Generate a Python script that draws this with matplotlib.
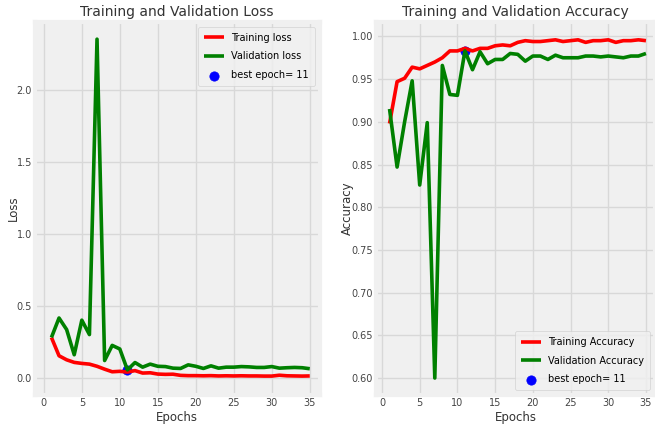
import matplotlib
matplotlib.use("Agg")
import matplotlib.pyplot as plt
import numpy as np

# -------------------------------------------------------------------
# Training history
# -------------------------------------------------------------------
epochs = list(range(1, 36))

tr_loss = [0.28, 0.153, 0.125, 0.107, 0.10, 0.095, 0.08, 0.06, 0.042, 0.045,
           0.04, 0.05, 0.033, 0.035, 0.026, 0.024, 0.025, 0.017, 0.015, 0.015,
           0.014, 0.015, 0.013, 0.014, 0.013, 0.014, 0.013, 0.013, 0.012, 0.012,
           0.018, 0.014, 0.013, 0.012, 0.013]
val_loss = [0.28, 0.415, 0.335, 0.16, 0.40, 0.30, 2.35, 0.12, 0.225, 0.20,
            0.055, 0.106, 0.074, 0.095, 0.08, 0.078, 0.067, 0.065, 0.09, 0.08,
            0.065, 0.083, 0.067, 0.074, 0.074, 0.078, 0.076, 0.072, 0.072, 0.078,
            0.067, 0.07, 0.072, 0.07, 0.063]

tr_acc = [0.898, 0.947, 0.951, 0.964, 0.962, 0.966, 0.970, 0.975, 0.983, 0.983,
          0.986, 0.983, 0.986, 0.986, 0.989, 0.990, 0.989, 0.993, 0.995, 0.994,
          0.994, 0.995, 0.996, 0.994, 0.995, 0.996, 0.993, 0.995, 0.995, 0.996,
          0.993, 0.995, 0.995, 0.996, 0.995]
val_acc = [0.915, 0.847, 0.90, 0.948, 0.826, 0.899, 0.60, 0.966, 0.932, 0.931,
           0.983, 0.961, 0.982, 0.968, 0.973, 0.973, 0.980, 0.979, 0.971, 0.977,
           0.977, 0.973, 0.978, 0.975, 0.975, 0.975, 0.977, 0.977, 0.976, 0.977,
           0.976, 0.975, 0.977, 0.977, 0.980]

index_loss = int(np.argmin(val_loss))
index_acc = int(np.argmax(val_acc))
loss_label = "best epoch= " + str(index_loss + 1)
acc_label = "best epoch= " + str(index_acc + 1)

# -------------------------------------------------------------------
# Plotting
# -------------------------------------------------------------------
plt.style.use("fivethirtyeight")
plt.rcParams["font.family"] = "DejaVu Sans"

fig = plt.figure(figsize=(6.55, 4.29), dpi=100, facecolor="white")
ax_loss = fig.add_axes([0.053, 0.079, 0.435, 0.870])
ax_acc = fig.add_axes([0.574, 0.079, 0.426, 0.870])

tick_color = "#444444"

# Loss
ax_loss.plot(epochs, tr_loss, "r", lw=2.6, label="Training loss")
ax_loss.plot(epochs, val_loss, "g", lw=2.6, label="Validation loss")
ax_loss.scatter(index_loss + 1, val_loss[index_loss], s=45, c="blue",
                label=loss_label)
ax_loss.set_title("Training and Validation Loss", fontsize=10, pad=4)
ax_loss.set_xlabel("Epochs", fontsize=8.5, labelpad=2)
ax_loss.set_ylabel("Loss", fontsize=8.5)
ax_loss.yaxis.set_label_coords(-0.053, 0.5)
ax_loss.set_xlim(-1.2, 36.3)
ax_loss.set_ylim(-0.12, 2.47)
ax_loss.set_xticks([0, 5, 10, 15, 20, 25, 30, 35])
ax_loss.set_yticks([0.0, 0.5, 1.0, 1.5, 2.0])
ax_loss.legend(loc="upper right", fontsize=7, handlelength=2.0,
               borderpad=0.6, labelspacing=0.9)

# Accuracy
ax_acc.plot(epochs, tr_acc, "r", lw=2.6, label="Training Accuracy")
ax_acc.plot(epochs, val_acc, "g", lw=2.6, label="Validation Accuracy")
ax_acc.scatter(index_acc + 1, val_acc[index_acc], s=45, c="blue",
               label=acc_label)
ax_acc.set_title("Training and Validation Accuracy", fontsize=10, pad=4)
ax_acc.set_xlabel("Epochs", fontsize=8.5, labelpad=2)
ax_acc.set_ylabel("Accuracy", fontsize=8.5)
ax_acc.yaxis.set_label_coords(-0.079, 0.5)
ax_acc.set_xlim(-0.8, 36.2)
ax_acc.set_ylim(0.58, 1.017)
ax_acc.set_xticks([0, 5, 10, 15, 20, 25, 30, 35])
ax_acc.set_yticks(np.arange(0.60, 1.001, 0.05))
ax_acc.legend(loc="lower right", fontsize=7, handlelength=2.0,
              borderpad=0.6, labelspacing=0.9)

for ax in (ax_loss, ax_acc):
    ax.tick_params(labelsize=7, colors=tick_color, pad=2)
    ax.xaxis.label.set_color("#333333")
    ax.yaxis.label.set_color("#333333")
    ax.title.set_color("#333333")
    ax.grid(True, color="#d8d8d8", lw=1.0)
ax_acc.yaxis.set_major_formatter(matplotlib.ticker.FormatStrFormatter("%.2f"))

fig.savefig("out.png", dpi=100, facecolor="white")
